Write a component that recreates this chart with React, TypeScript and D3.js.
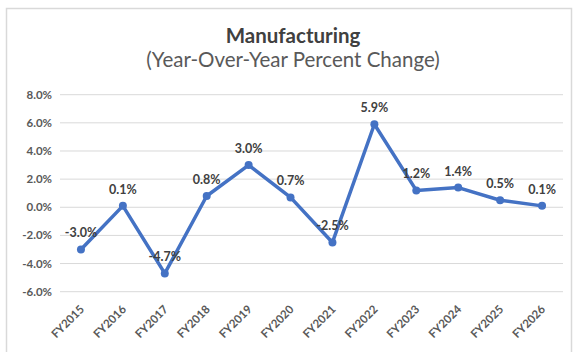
import React from "react";
import * as d3 from "d3";

const categories = ["FY2015","FY2016","FY2017","FY2018","FY2019","FY2020","FY2021","FY2022","FY2023","FY2024","FY2025","FY2026"];
const values = [-3.0, 0.1, -4.7, 0.8, 3.0, 0.7, -2.5, 5.9, 1.2, 1.4, 0.5, 0.1];
const yTicks = [8, 6, 4, 2, 0, -2, -4, -6];
const title = "Manufacturing";
const subtitle = "(Year-Over-Year Percent Change)";

export default function App() {
  const W = 577, H = 352;
  const x = d3.scaleBand<string>().domain(categories).range([60, 563]).paddingInner(0).paddingOuter(0);
  const y = d3.scaleLinear().domain([-6, 8]).range([291.7, 94.7]);
  const cx = (c: string) => (x(c) as number) + x.bandwidth() / 2;
  const line = d3.line<number>().x((_, i) => cx(categories[i])).y(v => y(v));
  const font = "Lato, 'Open Sans', sans-serif";
  return (
    <svg width={W} height={H} style={{ position: "absolute", left: 0, top: 0, background: "#fff" }} fontFamily={font}>
      <rect x={6.5} y={8.5} width={565} height={360} fill="#fff" stroke="#d9d9d9" strokeWidth={1.5} />
      <text x={293} y={43} textAnchor="middle" fontSize={20.5} fontWeight="bold" fill="#404040">{title}</text>
      <text x={293} y={67} textAnchor="middle" fontSize={20.5} fill="#595959">{subtitle}</text>
      {yTicks.map(t => (
        <g key={t}>
          <line x1={60} x2={563} y1={y(t)} y2={y(t)} stroke="#d9d9d9" strokeWidth={1} />
          <text x={52} y={y(t) + 4} textAnchor="end" fontSize={11.5} fontWeight="bold" fill="#595959">{t.toFixed(1) + "%"}</text>
        </g>
      ))}
      {categories.map(c => (
        <text key={c} transform={`translate(${cx(c) + 4},${310}) rotate(-45)`} textAnchor="end" fontSize={11.5} fontWeight="bold" fill="#595959">{c}</text>
      ))}
      <path d={line(values) as string} fill="none" stroke="#4472C4" strokeWidth={3.5} strokeLinejoin="round" />
      {values.map((v, i) => (
        <circle key={i} cx={cx(categories[i])} cy={y(v)} r={4} fill="#4472C4" />
      ))}
      {values.map((v, i) => (
        <text key={"l" + i} x={cx(categories[i])} y={y(v) - 12} textAnchor="middle" fontSize={12.5} fontWeight="bold" fill="#404040">{v.toFixed(1) + "%"}</text>
      ))}
    </svg>
  );
}
